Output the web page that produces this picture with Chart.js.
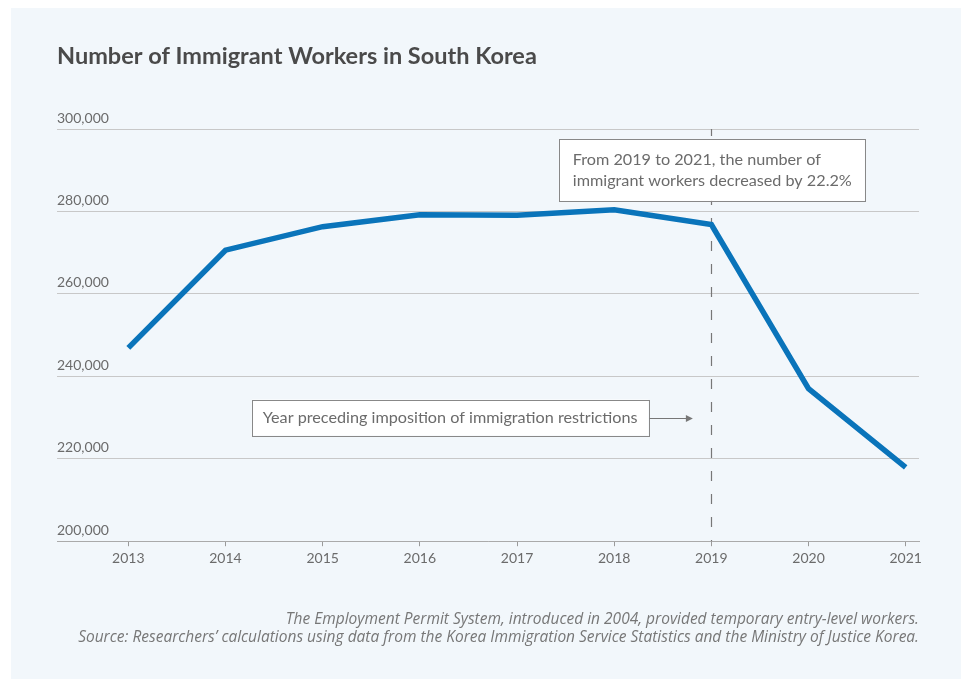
<!DOCTYPE html>
<html>
<head>
<meta charset="utf-8">
<script src="https://cdn.jsdelivr.net/npm/chart.js@4"></script>
<style>
  html, body { margin: 0; padding: 0; background: #ffffff; }
  #wrap { width: 961px; height: 679px; position: relative; }
</style>
</head>
<body>
<div id="wrap"><canvas id="c" width="961" height="679"></canvas></div>
<script>
// ---- data ----
const years = [2013, 2014, 2015, 2016, 2017, 2018, 2019, 2020, 2021];
const workers = [246900, 270600, 276300, 279200, 279100, 280400, 276800, 237000, 217900];
const yTicks = [200000, 220000, 240000, 260000, 280000, 300000];
const titleText = 'Number of Immigrant Workers in South Korea';
const footerLines = [
  'The Employment Permit System, introduced in 2004, provided temporary entry-level workers.',
  'Source: Researchers\u2019 calculations using data from the Korea Immigration Service Statistics and the Ministry of Justice Korea.'
];
const markerYear = 2019;
const noteDecrease = ['From 2019 to 2021, the number of', 'immigrant workers decreased by 22.2%'];
const noteMarker = 'Year preceding imposition of immigration restrictions';

const FONT = 'Lato, "Source Sans Pro", "Noto Sans", sans-serif';
const FOOT_FONT = '"Open Sans", "Noto Sans", sans-serif';
const TEXT_GRAY = '#6b6b6b';

const bgPlugin = {
  id: 'bg',
  beforeDraw(chart) {
    const ctx = chart.ctx;
    ctx.save();
    ctx.fillStyle = '#f2f7fb';
    ctx.fillRect(11, 8, chart.width - 11, chart.height - 8);
    ctx.restore();
  }
};

function drawBox(ctx, x, y, w, h) {
  ctx.fillStyle = '#ffffff';
  ctx.fillRect(x, y, w, h);
  ctx.strokeStyle = '#888888';
  ctx.lineWidth = 1;
  ctx.strokeRect(Math.round(x) + 0.5, Math.round(y) + 0.5, Math.round(w), Math.round(h));
}

const notePlugin = {
  id: 'notes',
  beforeDatasetsDraw(chart) {
    const { ctx, chartArea, scales } = chart;
    const x = Math.round(scales.x.getPixelForValue(markerYear)) + 0.5;
    ctx.save();
    ctx.strokeStyle = '#777777';
    ctx.lineWidth = 1.2;
    ctx.setLineDash([10, 13]);
    ctx.lineDashOffset = 3;
    ctx.beginPath();
    ctx.moveTo(x, chartArea.top);
    ctx.lineTo(x, chartArea.bottom);
    ctx.stroke();
    ctx.restore();
  },
  afterDatasetsDraw(chart) {
    const { ctx, scales } = chart;
    ctx.save();
    ctx.font = '16.2px ' + FONT;
    ctx.textBaseline = 'middle';
    ctx.textAlign = 'left';
    // decrease note
    const w1 = Math.max(...noteDecrease.map(t => ctx.measureText(t).width)) + 27;
    const x1 = scales.x.getPixelForValue(2017.43);
    const y1 = scales.y.getPixelForValue(297600);
    drawBox(ctx, x1, y1, w1, 62);
    ctx.fillStyle = TEXT_GRAY;
    noteDecrease.forEach((t, i) => ctx.fillText(t, x1 + 14, y1 + 21 + i * 20.5));
    // marker note
    const w2 = ctx.measureText(noteMarker).width + 22;
    const x2 = scales.x.getPixelForValue(2014.27);
    const yc = scales.y.getPixelForValue(230000);
    drawBox(ctx, x2, yc - 18, w2, 36);
    ctx.fillStyle = TEXT_GRAY;
    ctx.fillText(noteMarker, x2 + 11, yc);
    // arrow
    const ax0 = x2 + w2 + 1;
    const ax1 = scales.x.getPixelForValue(2018.81);
    ctx.strokeStyle = '#777777';
    ctx.lineWidth = 1;
    ctx.beginPath();
    ctx.moveTo(ax0, Math.round(yc) + 0.5);
    ctx.lineTo(ax1 - 4, Math.round(yc) + 0.5);
    ctx.stroke();
    ctx.fillStyle = '#777777';
    ctx.beginPath();
    ctx.moveTo(ax1, Math.round(yc) + 0.5);
    ctx.lineTo(ax1 - 7, Math.round(yc) - 3);
    ctx.lineTo(ax1 - 7, Math.round(yc) + 4);
    ctx.closePath();
    ctx.fill();
    ctx.restore();
  }
};

new Chart(document.getElementById('c'), {
  type: 'line',
  data: {
    datasets: [{
      data: years.map((y, i) => ({ x: y, y: workers[i] })),
      borderColor: '#0a74ba',
      borderWidth: 5.5,
      borderJoinStyle: 'miter',
      pointRadius: 0,
      tension: 0,
      fill: false
    }]
  },
  options: {
    responsive: false,
    animation: false,
    layout: { padding: { left: 57, right: 42, top: 0, bottom: 32 } },
    plugins: {
      legend: { display: false },
      tooltip: { enabled: false },
      title: {
        display: true,
        text: titleText,
        align: 'start',
        color: '#4a4a4a',
        font: { family: FONT, size: 23.5, weight: 'bold', lineHeight: '26px' },
        padding: { top: 43, bottom: 60 }
      },
      subtitle: {
        display: true,
        position: 'bottom',
        align: 'end',
        text: footerLines,
        color: '#777777',
        font: { family: FOOT_FONT, size: 15.5, style: 'italic', lineHeight: '18px' },
        padding: { top: 40, bottom: 0 }
      }
    },
    scales: {
      x: {
        type: 'linear',
        min: 2013 - 0.734,
        max: 2021 + 0.137,
        afterBuildTicks(axis) { axis.ticks = years.map(v => ({ value: v })); },
        grid: { drawOnChartArea: false, drawTicks: true, tickLength: 5, color: '#9a9a9a' },
        border: { display: true, color: '#aaaaaa', width: 1 },
        ticks: {
          color: TEXT_GRAY,
          font: { family: FONT, size: 14 },
          padding: 4,
          maxRotation: 0,
          callback: v => String(v)
        }
      },
      y: {
        min: 200000,
        max: 300000,
        afterBuildTicks(axis) { axis.ticks = yTicks.map(v => ({ value: v })); },
        grid: { drawTicks: false, color: '#c8c8c8', lineWidth: 1 },
        border: { display: false },
        ticks: {
          mirror: true,
          padding: 0,
          labelOffset: -11,
          color: TEXT_GRAY,
          font: { family: FONT, size: 14 },
          callback: v => v.toLocaleString('en-US')
        }
      }
    }
  },
  plugins: [bgPlugin, notePlugin]
});
</script>
</body>
</html>
